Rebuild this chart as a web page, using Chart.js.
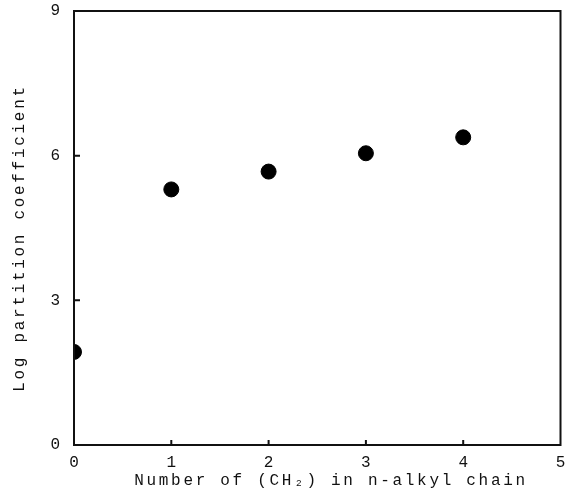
<!DOCTYPE html>
<html>
<head>
<meta charset="utf-8">
<script src="https://cdn.jsdelivr.net/npm/chart.js@4/dist/chart.umd.min.js"></script>
<style>
  html, body { margin: 0; padding: 0; background: #fff; }
  #wrap { width: 569px; height: 496px; }
</style>
</head>
<body>
<div id="wrap"><canvas id="c" width="569" height="496"></canvas></div>
<script>
// Number of CH2 groups in the n-alkyl chain and the measured log partition coefficients
const chainLength = [0, 1, 2, 3, 4];
const logPartition = [1.93, 5.30, 5.67, 6.05, 6.38];
const xTicks = [0, 1, 2, 3, 4, 5];
const yTicks = [0, 3, 6, 9];

const FONT = "'Liberation Mono', 'DejaVu Sans Mono', monospace";
const INK = '#111';

// Frame around the plot and short inward tick marks, plus spaced typewriter-style axis titles
const framePlugin = {
  id: 'frame',
  afterDraw(chart) {
    const { ctx, chartArea: a, scales: { x, y } } = chart;
    ctx.save();
    ctx.strokeStyle = INK;
    ctx.lineWidth = 2;
    ctx.strokeRect(a.left, a.top, a.right - a.left, a.bottom - a.top);
    ctx.beginPath();
    xTicks.slice(1, -1).forEach(v => {
      const px = x.getPixelForValue(v);
      ctx.moveTo(px, a.bottom);
      ctx.lineTo(px, a.bottom - 5);
    });
    yTicks.slice(1, -1).forEach(v => {
      const py = y.getPixelForValue(v);
      ctx.moveTo(a.left, py);
      ctx.lineTo(a.left + 6, py);
    });
    ctx.stroke();

    ctx.fillStyle = INK;
    ctx.font = '16px ' + FONT;
    ctx.letterSpacing = '2.7px';
    ctx.textAlign = 'center';
    ctx.textBaseline = 'middle';
    ctx.fillText('Number of (CH\u2082) in n-alkyl chain', 331, 481);
    ctx.translate(20, 238);
    ctx.rotate(-Math.PI / 2);
    ctx.fillText('Log partition coefficient', 0, 0);
    ctx.restore();
  }
};

new Chart(document.getElementById('c'), {
  type: 'scatter',
  data: {
    datasets: [{
      data: chainLength.map((v, i) => ({ x: v, y: logPartition[i] })),
      backgroundColor: '#000',
      borderColor: '#000',
      pointRadius: 7.5,
      pointHoverRadius: 7.5,
      showLine: false
    }]
  },
  options: {
    responsive: false,
    animation: false,
    devicePixelRatio: 1,
    layout: { padding: 0 },
    plugins: { legend: { display: false }, tooltip: { enabled: false } },
    scales: {
      x: {
        type: 'linear',
        min: 0, max: 5,
        afterBuildTicks(s) { s.ticks = xTicks.map(v => ({ value: v })); },
        afterFit(s) { s.height = 51; s.paddingRight = 6; s.paddingLeft = 0; },
        grid: { display: false },
        border: { display: false },
        ticks: {
          color: INK,
          font: { family: FONT, size: 16 },
          padding: 0,
          maxRotation: 0
        }
      },
      y: {
        type: 'linear',
        min: 0, max: 9,
        afterBuildTicks(s) { s.ticks = yTicks.map(v => ({ value: v })); },
        afterFit(s) { s.width = 74; s.paddingTop = 11; s.paddingBottom = 0; },
        grid: { display: false },
        border: { display: false },
        ticks: {
          color: INK,
          font: { family: FONT, size: 16 },
          padding: 6
        }
      }
    }
  },
  plugins: [framePlugin]
});
</script>
</body>
</html>
